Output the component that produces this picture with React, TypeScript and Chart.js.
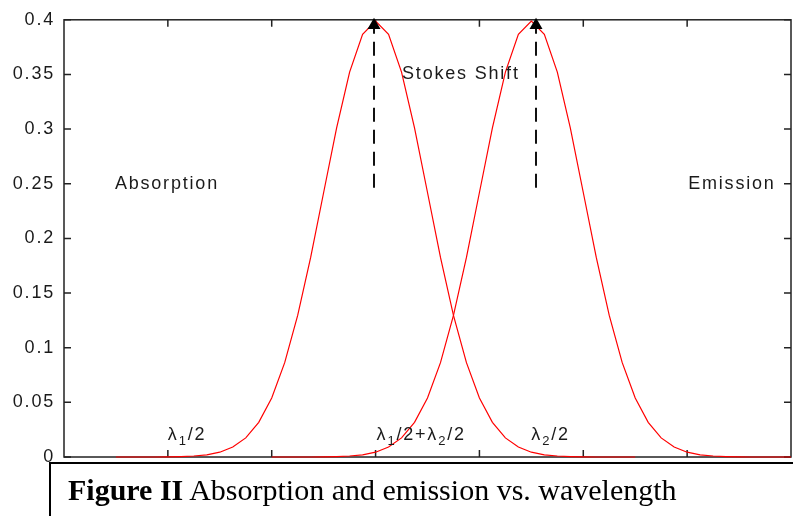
import React, { useEffect, useRef } from "react";
import { Chart, registerables } from "chart.js";

Chart.register(...registerables);

// ---------- data ----------
const ABS_X = [
  1, 1.25, 1.5, 1.75, 2, 2.25, 2.5, 2.75, 3, 3.25, 3.5, 3.75, 4, 4.25, 4.5, 4.75,
  5, 5.25, 5.5, 5.75, 6, 6.25, 6.5, 6.75, 7, 7.25, 7.5, 7.75, 8, 8.25, 8.5, 8.75,
  9, 9.25, 9.5, 9.75, 10, 10.25, 10.5, 10.75, 11,
];
const ABS_Y = [
  0.0, 0.0, 0.0, 0.0, 0.0001, 0.0004, 0.0009, 0.002, 0.0044, 0.0091, 0.0175, 0.0317,
  0.054, 0.0863, 0.1295, 0.1826, 0.242, 0.3011, 0.3521, 0.3867, 0.3989, 0.3867, 0.3521,
  0.3011, 0.242, 0.1826, 0.1295, 0.0863, 0.054, 0.0317, 0.0175, 0.0091, 0.0044, 0.002,
  0.0009, 0.0004, 0.0001, 0.0, 0.0, 0.0, 0.0,
];
const EMI_X = [
  4, 4.25, 4.5, 4.75, 5, 5.25, 5.5, 5.75, 6, 6.25, 6.5, 6.75, 7, 7.25, 7.5, 7.75,
  8, 8.25, 8.5, 8.75, 9, 9.25, 9.5, 9.75, 10, 10.25, 10.5, 10.75, 11, 11.25, 11.5, 11.75,
  12, 12.25, 12.5, 12.75, 13, 13.25, 13.5, 13.75, 14,
];
const EMI_Y = [
  0.0, 0.0, 0.0, 0.0, 0.0001, 0.0004, 0.0009, 0.002, 0.0044, 0.0091, 0.0175, 0.0317,
  0.054, 0.0863, 0.1295, 0.1826, 0.242, 0.3011, 0.3521, 0.3867, 0.3989, 0.3867, 0.3521,
  0.3011, 0.242, 0.1826, 0.1295, 0.0863, 0.054, 0.0317, 0.0175, 0.0091, 0.0044, 0.002,
  0.0009, 0.0004, 0.0001, 0.0, 0.0, 0.0, 0.0,
];
const PEAK_X = [5.97, 9.09];
const PEAK_Y = [0.395, 0.395];
const DASH_Y = [0.4, 0.24];

const X_MIN = 0;
const X_MAX = 14;
const X_TICKS = [2, 4, 6, 8, 10, 12];
const Y_TICKS = [0, 0.05, 0.1, 0.15, 0.2, 0.25, 0.3, 0.35, 0.4];
const Y_TICK_LABELS = ["0", "0.05", "0.1", "0.15", "0.2", "0.25", "0.3", "0.35", "0.4"];

const TEXT_LABELS = [
  { text: "Absorption", x: 0.98, y: 0.25 },
  { text: "Emission", x: 12.02, y: 0.25 },
  { text: "Stokes Shift", x: 6.51, y: 0.35 },
];
// [text, isSubscript]
const LAMBDA_LABELS: { x: number; y: number; segs: [string, boolean][] }[] = [
  { x: 2.0, y: 0.0155, segs: [["λ", false], ["1", true], ["/2", false]] },
  {
    x: 6.02,
    y: 0.0155,
    segs: [["λ", false], ["1", true], ["/2+λ", false], ["2", true], ["/2", false]],
  },
  { x: 9.0, y: 0.0155, segs: [["λ", false], ["2", true], ["/2", false]] },
];

const CAPTION_BOLD = "Figure II";
const CAPTION_TEXT = " Absorption and emission vs. wavelength";

const FONT = "'Liberation Sans', Arial, sans-serif";
const TEXT_COLOR = "#1a1a1a";
const AXIS_COLOR = "#222";
const LETTER_SPACING = "1.8px";

const framePlugin = {
  id: "frame",
  beforeDraw(chart: any) {
    (chart.ctx as any).letterSpacing = LETTER_SPACING;
  },
  beforeDatasetsDraw(chart: any) {
    const { ctx, chartArea, scales } = chart;
    const { left, right, top, bottom } = chartArea;
    ctx.save();
    ctx.strokeStyle = AXIS_COLOR;
    ctx.lineWidth = 1.5;
    ctx.strokeRect(left, top, right - left, bottom - top);
    const tl = 7;
    ctx.beginPath();
    for (const v of X_TICKS) {
      const px = scales.x.getPixelForValue(v);
      ctx.moveTo(px, bottom);
      ctx.lineTo(px, bottom - tl);
      ctx.moveTo(px, top);
      ctx.lineTo(px, top + tl);
    }
    for (const v of Y_TICKS) {
      const py = scales.y.getPixelForValue(v);
      ctx.moveTo(left, py);
      ctx.lineTo(left + tl, py);
      ctx.moveTo(right, py);
      ctx.lineTo(right - tl, py);
    }
    ctx.stroke();
    ctx.restore();
  },
  afterDatasetsDraw(chart: any) {
    const { ctx, scales } = chart;
    ctx.save();
    (ctx as any).letterSpacing = LETTER_SPACING;
    ctx.fillStyle = TEXT_COLOR;
    ctx.font = `18px ${FONT}`;
    ctx.textAlign = "left";
    ctx.textBaseline = "middle";
    for (const a of TEXT_LABELS) {
      ctx.fillText(a.text, scales.x.getPixelForValue(a.x), scales.y.getPixelForValue(a.y));
    }
    ctx.textBaseline = "alphabetic";
    for (const l of LAMBDA_LABELS) {
      let px = scales.x.getPixelForValue(l.x);
      const py = scales.y.getPixelForValue(l.y);
      for (const [t, sub] of l.segs) {
        ctx.font = sub ? `13px ${FONT}` : `18px ${FONT}`;
        ctx.fillText(t, px, sub ? py + 5 : py);
        px += ctx.measureText(t).width;
      }
    }
    ctx.restore();
  },
};

export default function App() {
  const canvasRef = useRef<HTMLCanvasElement | null>(null);

  useEffect(() => {
    const canvas = canvasRef.current;
    if (!canvas) return;
    const curve = (xs: number[], ys: number[]) => xs.map((x, i) => ({ x, y: ys[i] }));
    const chart = new Chart(canvas, {
      type: "line",
      data: {
        datasets: [
          {
            data: PEAK_X.map((x, i) => ({ x, y: PEAK_Y[i] })),
            showLine: false,
            pointStyle: "triangle",
            pointRadius: 7.5,
            pointHoverRadius: 0,
            pointBackgroundColor: "#000",
            pointBorderColor: "#000",
            pointBorderWidth: 0,
            clip: 20,
          } as any,
          {
            data: DASH_Y.map((y) => ({ x: PEAK_X[0], y })),
            borderColor: "#111",
            borderWidth: 2,
            borderDash: [14, 8],
            pointRadius: 0,
          },
          {
            data: DASH_Y.map((y) => ({ x: PEAK_X[1], y })),
            borderColor: "#111",
            borderWidth: 2,
            borderDash: [14, 8],
            pointRadius: 0,
          },
          {
            data: curve(ABS_X, ABS_Y),
            borderColor: "#ff0000",
            borderWidth: 1.2,
            pointRadius: 0,
            tension: 0,
            clip: 4,
          } as any,
          {
            data: curve(EMI_X, EMI_Y),
            borderColor: "#ff0000",
            borderWidth: 1.2,
            pointRadius: 0,
            tension: 0,
            clip: 4,
          } as any,
        ],
      },
      options: {
        responsive: false,
        animation: false,
        devicePixelRatio: 1,
        layout: { autoPadding: false, padding: { top: 17, right: 2, left: 0, bottom: 0 } },
        plugins: { legend: { display: false }, tooltip: { enabled: false } },
        events: [],
        scales: {
          x: {
            type: "linear",
            min: X_MIN,
            max: X_MAX,
            ticks: { display: false, stepSize: 2 },
            grid: { display: false, drawTicks: false },
            border: { display: false },
            afterFit: (s: any) => {
              s.height = 59;
            },
          },
          y: {
            min: 0,
            max: 0.4,
            afterBuildTicks: (s: any) => {
              s.ticks = Y_TICKS.map((v) => ({ value: v }));
            },
            ticks: {
              padding: 9,
              color: TEXT_COLOR,
              font: { family: FONT, size: 18 },
              callback: (v: any) => {
                const i = Y_TICKS.findIndex((t) => Math.abs(t - Number(v)) < 1e-9);
                return i >= 0 ? Y_TICK_LABELS[i] : "";
              },
            },
            grid: { display: false, drawTicks: false },
            border: { display: false },
            afterFit: (s: any) => {
              s.width = 64;
            },
          },
        },
      } as any,
      plugins: [framePlugin],
    });
    return () => chart.destroy();
  }, []);

  return (
    <div
      style={{
        position: "absolute",
        left: 0,
        top: 0,
        width: 793,
        height: 516,
        overflow: "hidden",
        background: "#fff",
      }}
    >
      <canvas ref={canvasRef} width={793} height={516} style={{ width: 793, height: 516, display: "block" }} />
      <div
        style={{
          position: "absolute",
          left: 49,
          top: 462,
          width: 760,
          height: 60,
          borderLeft: "2px solid #000",
          borderTop: "2px solid #000",
          boxSizing: "border-box",
          paddingLeft: 17,
          paddingTop: 11,
          fontFamily: "'Liberation Serif', 'Times New Roman', serif",
          fontSize: 30,
          lineHeight: "30px",
          color: "#000",
          whiteSpace: "nowrap",
        }}
      >
        <b>{CAPTION_BOLD}</b>
        {CAPTION_TEXT}
      </div>
    </div>
  );
}
